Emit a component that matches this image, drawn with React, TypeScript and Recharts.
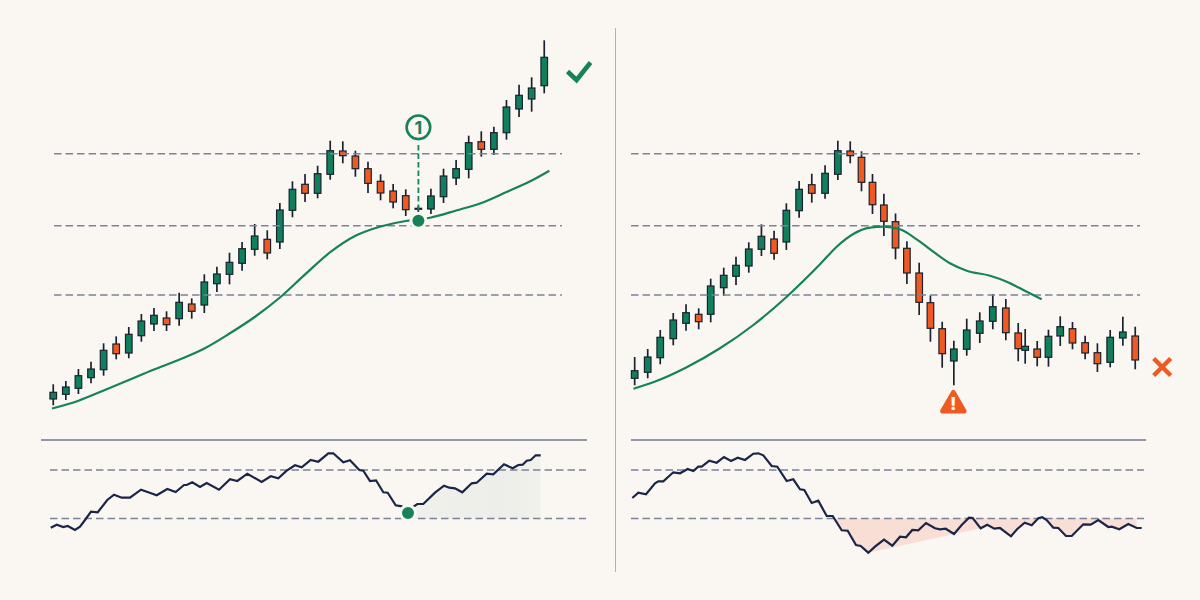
import React from 'react';
import { ComposedChart, Bar, Line, Area, XAxis, YAxis, ReferenceLine, ReferenceDot } from 'recharts';

const BG = '#faf7f2';
const GREEN = '#0f7f5c';
const LINE_GREEN = '#17825a';
const RED = '#ee5a22';
const INK = '#1a2230';
const NAVY = '#1a2549';
const GUIDE = '#7a829c';
const BODY_WIDTH = 6.6;

// price panels, one session = one regular candle
const leftSessions = Array.from({ length: 40 }, (_, i) => i);
const leftHigh = [45.7, 49, 61, 68.3, 86.7, 93.7, 103, 116, 122, 118.7, 137.3, 131.7, 155.7, 163.3, 177.3, 188, 206, 199.7, 227, 248.7, 256, 264.3, 289.3, 288.7, 279.3, 268.3, 255.7, 246, 240.7, 224, 241.3, 261.3, 270, 294.3, 298.7, 303.3, 330, 345.3, 352.7, 389.7];
const leftLow = [24.7, 30, 36, 46.7, 54.3, 70.7, 71.7, 88.3, 99, 99, 104.3, 111.3, 117, 138, 145.7, 159.3, 174.3, 170.7, 181, 212.7, 228, 231.7, 250.3, 266.7, 253.3, 237, 229.7, 221.7, 214, 218, 216, 227, 245, 251.7, 273.3, 275, 290.3, 313, 318.3, 336.7];
const leftOpen = [31, 35.7, 41.7, 52.3, 60.3, 86, 77, 94.3, 106, 112, 111.3, 126, 125, 146.3, 155.7, 166.7, 180.7, 190.7, 188, 219.7, 245.7, 236.7, 255.7, 279, 274, 261.3, 248.7, 239, 234.3, 221.7, 221, 233.3, 252, 260.7, 288.3, 280.7, 297.3, 321, 331, 344.3];
const leftClose = [37.7, 43, 54.3, 61, 79.7, 76.3, 95.7, 109, 114.7, 105.3, 127.7, 118.7, 148, 156, 167.7, 181.3, 194, 177, 220, 240.7, 236.7, 256.3, 279.3, 274.3, 261.3, 246.7, 237, 228, 220.3, 221.7, 234, 254, 261.3, 287.3, 280.7, 297.3, 323, 334.7, 342, 372.7];

const rightSessions = [0, 1.03, 2.02, 3.05, 4.06, 5.06, 6.01, 7.04, 8.01, 9.02, 10.02, 11.02, 11.99, 13, 14, 15.05, 16.06, 17.04, 17.93, 18.8, 19.7, 20.62, 21.52, 22.49, 23.38, 24.31, 25.23, 26.25, 27.28, 28.31, 29.34, 30.32, 30.87, 31.82, 32.71, 33.64, 34.61, 35.61, 36.58, 37.59, 38.59, 39.57];
const rightHigh = [73, 81, 100, 117, 125.7, 121.7, 151.3, 162.3, 173.3, 187.7, 205.7, 199.3, 226.7, 249, 256.3, 264.7, 289.3, 288.7, 278.7, 256, 236.3, 216.5, 188.7, 167.3, 134.7, 108.3, 89.3, 111.3, 117.7, 136, 131, 107, 101, 89, 100.3, 113.7, 108, 94.3, 86.7, 100, 113.3, 103.3];
const rightLow = [44.7, 51.7, 65.7, 84.7, 99.3, 100.7, 107.7, 134, 145, 157.3, 174, 170.3, 180, 212.3, 227.3, 231.3, 250, 266.7, 238.7, 216, 194, 170.7, 146, 115, 88.3, 62.3, 44.7, 74.3, 87, 100.7, 89.7, 68.7, 66.3, 63.7, 63.3, 84, 80.7, 70.7, 58, 62.7, 84.3, 60.7];
const rightOpen = [51.7, 57.7, 72.3, 91.3, 106.7, 115.7, 115.7, 142.3, 153.7, 164, 180.7, 191, 188, 219.3, 245.3, 236.7, 255.7, 279, 272.7, 247.7, 225, 208.3, 181.7, 157, 127.3, 101.3, 69, 80.7, 96.7, 108.7, 122, 97, 79.7, 81, 72.7, 94, 101.3, 87.3, 77.3, 67.7, 92, 94];
const rightClose = [59.3, 73, 92.7, 110, 117.3, 108.3, 144, 154.7, 164.7, 181, 193.7, 176.7, 219.7, 240.7, 236.7, 256.7, 279.3, 274.3, 247.7, 225.3, 208.7, 182, 157, 127.7, 101.7, 76.3, 81, 100, 109, 123.3, 97.3, 81.3, 83.7, 72.7, 93.7, 103.3, 87, 77, 66.3, 92.7, 98, 70];

// moving averages
const leftMaSessions = [-0.1, 2, 4, 6, 8, 10, 12, 14, 16, 18, 20, 22, 24, 26, 28, 29, 30, 32, 34, 36, 38, 39.4];
const leftMaValues = [21.5, 29.3, 39.5, 50, 60.5, 70.3, 81.5, 96.5, 113, 132.5, 155.6, 177.8, 194.2, 203.5, 209, 210.5, 212.5, 219.5, 227, 238, 249.5, 259.3];
const rightMaSessions = [-0.1, 1.47, 4.11, 6.74, 9.38, 12.02, 14.65, 15.97, 17.28, 18.6, 19.65, 20.97, 22.29, 23.6, 24.92, 26.25, 28.09, 29.41, 30.72, 32.17];
const rightMaValues = [41.3, 47.7, 62.7, 81.7, 105, 133.3, 165.7, 183.3, 196, 202.3, 203.3, 200.7, 190.7, 178.3, 166.7, 159.3, 154.3, 148.3, 140, 130.7];

// oscillator panels
const leftOscTime = [0.7, 6.7, 13.3, 17.7, 25, 30, 35, 41, 47.7, 57.3, 64, 71.7, 80, 91, 98.3, 106.7, 117.3, 125.7, 134, 136.7, 142.3, 150, 156.7, 169, 180, 187.3, 197.3, 211.7, 220.7, 228.3, 236.7, 245, 251.7, 260.7, 268.3, 278.3, 283.3, 293.3, 300, 309.3, 313.3, 320, 326, 333.3, 337.7, 345.7, 351.7, 358, 364, 367.3, 373.3, 385, 394, 399.3, 405, 412.3, 421.7, 426.7, 436.7, 443.3, 454, 462.7, 468.3, 472.7, 476.7, 480.7, 485.7, 490.7];
const leftOscValues = [12.3, 15.3, 13, 14, 10, 13.3, 20, 28.3, 27.7, 40, 45.3, 42.3, 42.3, 50.3, 47.7, 44.7, 51, 48, 55, 55, 57.7, 53, 57, 50.3, 60.7, 59, 66.3, 58, 63.7, 61.7, 69.3, 74.7, 72.7, 80, 78.3, 86.7, 86.7, 77.7, 79.7, 70, 69.3, 59, 59.7, 47.7, 47.3, 34.7, 33.7, 27, 33.7, 36, 36, 47.3, 54.3, 52.3, 51.7, 47.7, 56.7, 57.3, 66.3, 65.7, 75.7, 71.7, 75, 75.3, 79.3, 80, 84.7, 84.7];
const rightOscTime = [2.3, 8.3, 16, 25, 28.3, 33.3, 43.3, 50, 57.7, 63.3, 68.3, 71.7, 79.3, 86.7, 94, 101, 107.7, 115, 123.3, 128.3, 133.3, 141.7, 147.3, 156.7, 163.3, 170, 174.3, 181.7, 188.3, 196.7, 202.7, 211.7, 217.7, 226, 230.7, 238.3, 245, 254, 262.3, 270, 276, 282.3, 288.3, 296, 305, 310, 315.7, 324, 331.7, 339, 342.7, 350.7, 357.3, 364.3, 370, 381, 387.3, 394.7, 401.7, 408.3, 412.3, 416.7, 423.3, 428.3, 436, 441.7, 453.3, 460.7, 468.3, 478.3, 481.7, 489.3, 498.3, 506.7, 511.7];
const rightOscValues = [42, 47.3, 45.7, 56.7, 58.7, 58.7, 67.7, 66.7, 71, 69, 73.3, 73.3, 79.3, 77.3, 83, 79, 82.3, 80, 86.3, 86.7, 84.7, 74, 73.3, 59, 60.7, 50.7, 50, 37, 39.3, 24, 24, 9.7, 9.3, -5, -6, -12.7, -6.7, 0.3, -5.7, 3.3, 2.7, 10, 9.7, 17, 11.7, 10.7, 11.3, 6, 15, 22.3, 22, 11.7, 15.3, 11.3, 12, 3.7, 11, 17.3, 14.7, 21.7, 22.7, 20, 12.3, 12, 4, 4, 15.7, 15.3, 20, 13, 13.3, 10.7, 16, 12, 12];

const upperBand = 70;
const lowerBand = 21.5;
const priceLevels = [276.3, 204.3, 135];

const leftCandles = leftSessions.map((session, i) => ({
  session,
  range: [leftLow[i], leftHigh[i]],
  open: leftOpen[i],
  close: leftClose[i],
}));
const rightCandles = rightSessions.map((session, i) => ({
  session,
  range: [rightLow[i], rightHigh[i]],
  open: rightOpen[i],
  close: rightClose[i],
}));
const leftMa = leftMaSessions.map((session, i) => ({ session, ma: leftMaValues[i] }));
const rightMa = rightMaSessions.map((session, i) => ({ session, ma: rightMaValues[i] }));
const leftOsc = leftOscTime.map((t, i) => ({ t, osc: leftOscValues[i] }));
const rightOsc = rightOscTime.map((t, i) => ({ t, osc: rightOscValues[i] }));

// grey recovery wedge under the left oscillator
const recovery = leftOsc.filter((d) => d.t >= 364).map((d) => ({ t: d.t, band: [lowerBand, d.osc] }));

// red wedge over the right oscillator, its lower edge skips the stretch after the trough
const weakness = [
  { t: 204.3, band: [lowerBand, lowerBand] },
  ...rightOsc
    .filter((d) => d.t >= 205 && d.t <= 508 && (d.t <= 238.3 || d.t >= 350))
    .map((d) => ({ t: d.t, band: [Math.min(d.osc, lowerBand), lowerBand] })),
];

const Candle = (props: any) => {
  const { x, y, width, height, payload } = props;
  const [low, high] = payload.range;
  const perUnit = height / (high - low);
  const top = y + (high - Math.max(payload.open, payload.close)) * perUnit;
  const bottom = y + (high - Math.min(payload.open, payload.close)) * perUnit;
  const mid = x + width / 2;
  return (
    <g>
      <line x1={mid} x2={mid} y1={y} y2={y + height} stroke={INK} strokeWidth={1.7} />
      <rect
        x={mid - BODY_WIDTH / 2}
        y={top}
        width={BODY_WIDTH}
        height={Math.max(bottom - top, 1)}
        fill={payload.close >= payload.open ? GREEN : RED}
        stroke={INK}
        strokeWidth={1.2}
      />
    </g>
  );
};

const Badge = ({ cx, cy }: any) => (
  <g>
    <circle cx={cx} cy={cy} r={11.8} fill={BG} stroke={LINE_GREEN} strokeWidth={2.6} />
    <text x={cx} y={cy + 6.5} textAnchor="middle" fontFamily="Inter, sans-serif" fontSize={18} fontWeight={700} fill={LINE_GREEN}>
      1
    </text>
  </g>
);

const CheckMark = ({ cx, cy }: any) => (
  <polyline
    points={`${cx - 10.5},${cy - 0.5} ${cx - 1.5},${cy + 8} ${cx + 12.5},${cy - 9.5}`}
    fill="none"
    stroke={LINE_GREEN}
    strokeWidth={4.6}
  />
);

const CrossMark = ({ cx, cy }: any) => (
  <g stroke={RED} strokeWidth={4.4}>
    <line x1={cx - 8.5} y1={cy - 8.5} x2={cx + 8.5} y2={cy + 8.5} />
    <line x1={cx - 8.5} y1={cy + 8.5} x2={cx + 8.5} y2={cy - 8.5} />
  </g>
);

const Warning = ({ cx, cy }: any) => (
  <g>
    <path
      d={`M${cx},${cy - 9.5} L${cx + 11},${cy + 9.5} L${cx - 11},${cy + 9.5} Z`}
      fill={RED}
      stroke={RED}
      strokeWidth={4.5}
      strokeLinejoin="round"
    />
    <text x={cx} y={cy + 8} textAnchor="middle" fontFamily="Inter, sans-serif" fontSize={18} fontWeight={800} fill={BG}>
      !
    </text>
  </g>
);

const HaloDot = ({ cx, cy }: any) => <circle cx={cx} cy={cy} r={7.5} fill={LINE_GREEN} stroke={BG} strokeWidth={3} />;

const PricePanel = ({ left, domain, candles, ma, guideFrom, guideTo, children }: any) => (
  <div style={{ position: 'absolute', left, top: 0 }}>
    <ComposedChart width={600} height={430} data={candles} margin={{ top: 0, right: 0, bottom: 0, left: 0 }}>
      <XAxis dataKey="session" type="number" domain={domain} hide allowDataOverflow />
      <YAxis type="number" domain={[0, 430]} hide />
      {priceLevels.map((y) => (
        <ReferenceLine
          key={y}
          segment={[{ x: guideFrom, y }, { x: guideTo, y }]}
          stroke={GUIDE}
          strokeWidth={1.5}
          strokeDasharray="7.5 4"
        />
      ))}
      <Line data={ma} dataKey="ma" type="monotone" stroke={LINE_GREEN} strokeWidth={2.2} dot={false} activeDot={false} isAnimationActive={false} />
      <Bar dataKey="range" barSize={8} shape={Candle} isAnimationActive={false} />
      {children}
    </ComposedChart>
  </div>
);

const OscPanel = ({ left, domain, osc, rule, guides, children }: any) => (
  <div style={{ position: 'absolute', left, top: 430 }}>
    <ComposedChart width={600} height={130} margin={{ top: 0, right: 0, bottom: 0, left: 0 }}>
      <defs>
        <linearGradient id="recoveryFill" x1="0" y1="0" x2="1" y2="0">
          <stop offset="0" stopColor="#e9ece7" />
          <stop offset="0.7" stopColor="#e5e8e3" />
          <stop offset="1" stopColor="#eceee8" />
        </linearGradient>
      </defs>
      <XAxis dataKey="t" type="number" domain={domain} hide allowDataOverflow />
      <YAxis type="number" domain={[-20, 110]} hide />
      {children}
      <ReferenceLine segment={[{ x: rule[0], y: 100 }, { x: rule[1], y: 100 }]} stroke="#6f7690" strokeWidth={1.6} />
      <ReferenceLine segment={[{ x: guides[0], y: upperBand }, { x: guides[1], y: upperBand }]} stroke={GUIDE} strokeWidth={1.5} strokeDasharray="7.5 4" />
      <ReferenceLine segment={[{ x: guides[0], y: lowerBand }, { x: guides[1], y: lowerBand }]} stroke={GUIDE} strokeWidth={1.5} strokeDasharray="7.5 4" />
      <Line data={osc} dataKey="osc" type="linear" stroke={NAVY} strokeWidth={2.2} dot={false} activeDot={false} isAnimationActive={false} />
    </ComposedChart>
  </div>
);

export default function App() {
  return (
    <div style={{ position: 'fixed', left: 0, top: 0, width: 1200, height: 600, background: BG, overflow: 'hidden' }}>
      <div style={{ position: 'absolute', left: 614.5, top: 28, width: 1.5, height: 544, background: '#aab0bf' }} />

      <PricePanel left={0} domain={[-4.234, 43.424]} candles={leftCandles} ma={leftMa} guideFrom={0.06} guideTo={40.4}>
        <ReferenceLine segment={[{ x: 29, y: 285 }, { x: 29, y: 212 }]} stroke={LINE_GREEN} strokeWidth={1.8} strokeDasharray="5.5 3" />
        <ReferenceDot x={29} y={209.3} r={7} shape={HaloDot} />
        <ReferenceDot x={29} y={302.7} r={12} shape={Badge} />
        <ReferenceDot x={41.68} y={358} r={12} shape={CheckMark} />
      </PricePanel>

      <PricePanel left={600} domain={[-2.743, 44.688]} candles={rightCandles} ma={rightMa} guideFrom={-0.29} guideTo={39.95}>
        <ReferenceDot x={25.19} y={28.3} r={12} shape={Warning} />
        <ReferenceDot x={41.7} y={63} r={12} shape={CrossMark} />
      </PricePanel>

      <OscPanel left={0} domain={[-50, 550]} osc={leftOsc} rule={[-9, 537]} guides={[0, 536]}>
        <Area data={recovery} dataKey="band" type="linear" stroke="none" fill="url(#recoveryFill)" isAnimationActive={false} />
        <ReferenceDot x={358} y={27} r={7} shape={HaloDot} />
      </OscPanel>

      <OscPanel left={600} domain={[-30, 570]} osc={rightOsc} rule={[1, 516]} guides={[1, 514]}>
        <Area data={weakness} dataKey="band" type="linear" stroke="none" fill="#f6cdbf" isAnimationActive={false} />
      </OscPanel>
    </div>
  );
}
